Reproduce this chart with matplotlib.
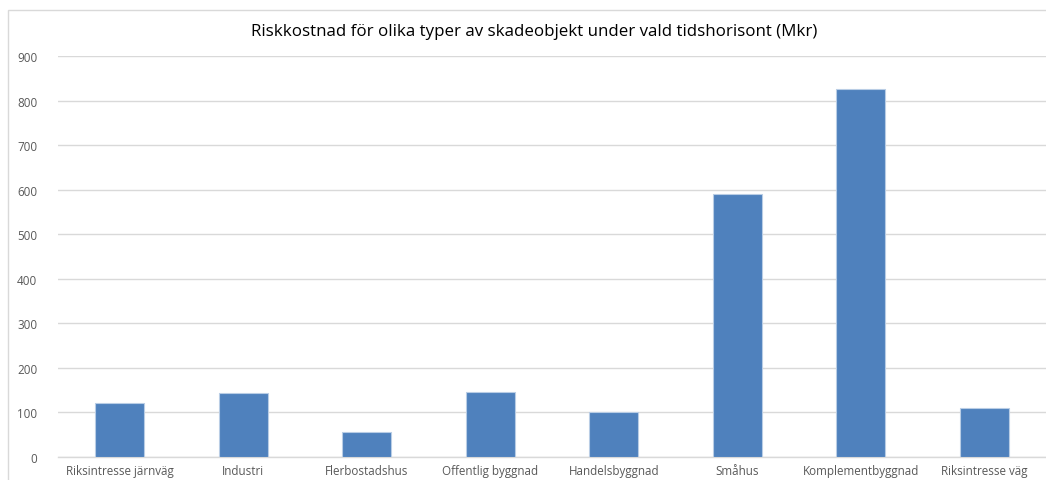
import matplotlib
matplotlib.use("Agg")
import matplotlib.pyplot as plt
from matplotlib.patches import Rectangle

categories = ["Riksintresse järnväg", "Industri", "Flerbostadshus", "Offentlig byggnad",
              "Handelsbyggnad", "Småhus", "Komplementbyggnad", "Riksintresse väg"]
values = [122, 143, 57, 146, 101, 590, 825, 109]
yticks = [0, 100, 200, 300, 400, 500, 600, 700, 800, 900]
title = "Riskkostnad för olika typer av skadeobjekt under vald tidshorisont (Mkr)"

plt.rcParams['font.family'] = ['Open Sans', 'DejaVu Sans']

W, H = 1046, 481
fig = plt.figure(figsize=(W / 100, H / 100), dpi=100)
fig.patch.set_facecolor("white")

# outer chart border
fig.patches.append(Rectangle((8 / W, -0.1), 1.2, (H - 11) / H + 0.1, transform=fig.transFigure,
                             fill=False, edgecolor="#d9d9d9", linewidth=1.0))

left, right = 58 / W, 1046 / W
bottom, top = (H - 458) / H, (H - 57) / H
ax = fig.add_axes([left, bottom, right - left, top - bottom])

x = list(range(len(categories)))
ax.bar(x, values, width=0.4, color="#4f81bd", edgecolor="#b9cde5", linewidth=0.8, zorder=3)

ax.set_xlim(-0.5, len(categories) - 0.5)
ax.set_ylim(0, 900)
ax.set_yticks(yticks)
ax.set_xticks(x)
ax.set_xticklabels(categories)
ax.grid(axis="y", color="#d9d9d9", linewidth=1.0, zorder=0)
for s in ["top", "right", "left"]:
    ax.spines[s].set_visible(False)
ax.spines["bottom"].set_color("#d9d9d9")
ax.spines["bottom"].set_linewidth(1.0)
ax.tick_params(axis="both", length=0, colors="#595959", labelsize=8.4)
ax.tick_params(axis="y", pad=15)
ax.tick_params(axis="x", pad=5)

fig.text((250 + 818) / 2 / W, 1 - 32 / H, title, ha="center", va="center",
         fontsize=12.2, color="#000000")

fig.savefig("out.png", dpi=100)
